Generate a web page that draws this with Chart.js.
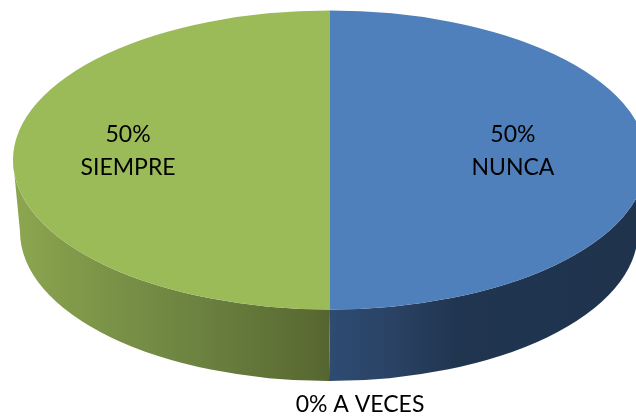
<!DOCTYPE html>
<html>
<head>
<meta charset="utf-8">
<script src="https://cdn.jsdelivr.net/npm/chart.js@4/dist/chart.umd.min.js"></script>
<style>
  html, body { margin: 0; padding: 0; background: #fff; overflow: hidden; }
  #pie { display: block; }
</style>
</head>
<body>
<canvas id="pie" width="636" height="417"></canvas>
<script>
var categories = ['NUNCA', 'A VECES', 'SIEMPRE'];
var values = [50, 0, 50];
var colors = ['#4f80bb', '#c0504d', '#9bbb59'];

// side wall shades, left to right across each half
var wallStopsGreen = [
  [0.00, '#8ca650'],
  [0.30, '#7a9347'],
  [0.60, '#6b8140'],
  [0.90, '#5c6d34'],
  [1.00, '#566530']
];
var wallStopsBlue = [
  [0.00, '#2e4b72'],
  [0.20, '#2a4264'],
  [0.40, '#203550'],
  [1.00, '#1f334d']
];

var squash = 149.5 / 317;   // tilt of the top face
var lower = { dx: -1, dy: 71.5, rx: 309, ry: 149.5 };

function wall(ctx, arc, from, to, fill) {
  var ry = arc.outerRadius * squash;
  var cy = arc.y;
  // only the front half of the slice shows a wall
  var a = Math.max(from, 0), b = Math.min(to, Math.PI);
  if (b <= a) return;
  ctx.beginPath();
  ctx.ellipse(arc.x, cy, arc.outerRadius, ry, 0, a, b);
  ctx.ellipse(arc.x + lower.dx, cy + lower.dy, lower.rx, lower.ry, 0, b, a, true);
  ctx.closePath();
  ctx.fillStyle = fill;
  ctx.fill();
}

var pie3d = {
  id: 'pie3d',
  beforeDatasetsDraw: function(chart) {
    var ctx = chart.ctx;
    var arcs = chart.getDatasetMeta(0).data;
    var r = arcs[0].outerRadius, x = arcs[0].x;

    var blue = ctx.createLinearGradient(x, 0, x + r, 0);
    wallStopsBlue.forEach(function(s) { blue.addColorStop(s[0], s[1]); });
    var green = ctx.createLinearGradient(x - r, 0, x, 0);
    wallStopsGreen.forEach(function(s) { green.addColorStop(s[0], s[1]); });

    // chart.js angles run clockwise, same sense as canvas
    wall(ctx, arcs[0], arcs[0].startAngle, arcs[0].endAngle, blue);
    wall(ctx, arcs[2], arcs[2].startAngle, arcs[2].endAngle, green);

    ctx.save();
    ctx.translate(0, arcs[0].y);
    ctx.scale(1, squash);
    ctx.translate(0, -arcs[0].y);
    arcs.forEach(function(arc) { arc.draw(ctx); });
    ctx.restore();
    return false;
  },
  afterDraw: function(chart) {
    var ctx = chart.ctx;
    var arcs = chart.getDatasetMeta(0).data;
    var total = values.reduce(function(a, b) { return a + b; }, 0);
    ctx.save();
    ctx.fillStyle = '#000';
    ctx.font = '23px Lato';
    ctx.textAlign = 'center';
    ctx.textBaseline = 'alphabetic';
    var pct = function(i) { return Math.round(values[i] / total * 100) + '%'; };
    var xc = arcs[0].x, r = arcs[0].outerRadius;
    ctx.fillText(pct(0), xc + r * 0.577, 142);
    ctx.fillText(categories[0], xc + r * 0.577, 175);
    ctx.fillText(pct(2), xc - r * 0.637, 142);
    ctx.fillText(categories[2], xc - r * 0.637, 175);
    ctx.fillText(pct(1) + ' ' + categories[1], xc + 30, 412);
    ctx.restore();
  }
};

new Chart(document.getElementById('pie').getContext('2d'), {
  type: 'pie',
  data: {
    labels: categories,
    datasets: [{ data: values, backgroundColor: colors, borderWidth: 0 }]
  },
  options: {
    responsive: false,
    animation: false,
    radius: 317,
    layout: { padding: { left: 24, bottom: 97 } },
    plugins: { legend: { display: false }, tooltip: { enabled: false } }
  },
  plugins: [pie3d]
});
</script>
</body>
</html>
